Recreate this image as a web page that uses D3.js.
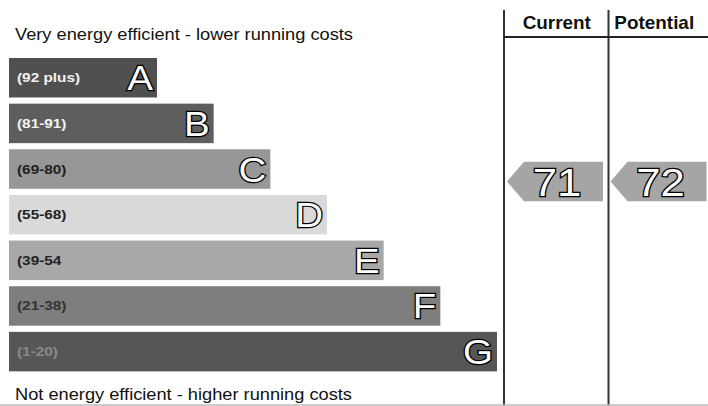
<!DOCTYPE html>
<html>
<head>
<meta charset="utf-8">
<script src="https://cdnjs.cloudflare.com/ajax/libs/d3/7.8.5/d3.min.js"></script>
<style>
  body { margin: 0; background: #fff; }
  text { font-family: "Liberation Sans", Arial, sans-serif; }
</style>
</head>
<body>
<div id="chart"></div>
<script>
var bandLetters = ['A', 'B', 'C', 'D', 'E', 'F', 'G'];
var bandRanges = ['(92 plus)', '(81-91)', '(69-80)', '(55-68)', '(39-54', '(21-38)', '(1-20)'];
var bandColours = ['#505050', '#5e5e5e', '#979797', '#d9d9d9', '#a8a8a8', '#7e7e7e', '#565656'];
var rangeColours = ['#f2f2f2', '#f2f2f2', '#222', '#222', '#222', '#333', '#8a8a8a'];
var ratingNames = ['Current', 'Potential'];
var ratingValues = [71, 72];
var ratingBands = ['C', 'C'];

var W = 708, H = 406;
var svg = d3.select('#chart').append('svg').attr('width', W).attr('height', H);

// row position and bar length by band index
var y = d3.scaleLinear().domain([0, 7]).range([58, 377.5]);
var barRight = d3.scaleLinear().domain([0, 6]).range([157, 497]);
var barH = 39.5;
var col = d3.scaleBand().domain(ratingNames).range([505, 712]);

// the scan is a little wider than it is tall, so text gets stretched sideways
function place(x, y, sx) {
	return 'translate(' + x + ',' + y + ') scale(' + (sx || 1.14) + ',1)';
}

svg.append('text').attr('transform', place(15, 40)).attr('font-size', 16)
	.attr('fill', '#111').text('Very energy efficient - lower running costs');
svg.append('text').attr('transform', place(15, 400)).attr('font-size', 16)
	.attr('fill', '#111').text('Not energy efficient - higher running costs');

var rows = svg.selectAll('g.band').data(bandLetters).enter().append('g').attr('class', 'band');
rows.append('rect')
	.attr('x', 9)
	.attr('y', (d, i) => y(i))
	.attr('width', (d, i) => barRight(i) - 9)
	.attr('height', barH)
	.attr('fill', (d, i) => bandColours[i]);
rows.append('text')
	.attr('transform', (d, i) => place(17, y(i) + barH / 2 + 4.5, 1.2))
	.attr('font-size', 12.8).attr('font-weight', 'bold')
	.attr('fill', (d, i) => rangeColours[i])
	.text((d, i) => bandRanges[i]);
rows.append('text')
	.attr('transform', (d, i) => place(barRight(i) - 4, y(i) + barH / 2 + 12.5, 1.1))
	.attr('text-anchor', 'end')
	.attr('font-size', 35)
	.attr('fill', '#fff').attr('stroke', '#000').attr('stroke-width', 2.5)
	.attr('paint-order', 'stroke')
	.text(d => d);

// frame of the rating columns
svg.append('line').attr('x1', col('Current') - 1).attr('x2', col('Current') - 1)
	.attr('y1', 10).attr('y2', H).attr('stroke', '#333').attr('stroke-width', 2);
svg.append('line').attr('x1', col('Potential')).attr('x2', col('Potential'))
	.attr('y1', 10).attr('y2', H).attr('stroke', '#333').attr('stroke-width', 2);
svg.append('line').attr('x1', col('Current') - 1).attr('x2', W)
	.attr('y1', 37).attr('y2', 37).attr('stroke', '#222').attr('stroke-width', 2);
svg.append('line').attr('x1', 0).attr('x2', W)
	.attr('y1', H - 1).attr('y2', H - 1).attr('stroke', '#bbb').attr('stroke-width', 1.5);

svg.selectAll('text.head').data(ratingNames).enter().append('text')
	.attr('class', 'head')
	.attr('transform', d => place(col(d) + col.bandwidth() / 2 - (d == 'Potential' ? 6 : 0), 29, 1.08))
	.attr('text-anchor', 'middle')
	.attr('font-size', 17.5).attr('font-weight', 'bold').attr('fill', '#111')
	.text(d => d);

var arrows = svg.selectAll('g.rating').data(ratingNames).enter().append('g').attr('class', 'rating');
arrows.append('path')
	.attr('d', (d, i) => {
		var x0 = col(d) + 2, top = y(bandLetters.indexOf(ratingBands[i])) + 12.5;
		var x1 = x0 + 17, x2 = x0 + 96, mid = top + barH / 2;
		var p = d3.path();
		p.moveTo(x0, mid);
		p.lineTo(x1, top);
		p.lineTo(x2, top);
		p.lineTo(x2, top + barH);
		p.lineTo(x1, top + barH);
		p.closePath();
		return p.toString();
	})
	.attr('fill', '#a5a5a5');
arrows.append('text')
	.attr('transform', (d, i) => place(col(d) + 52, y(bandLetters.indexOf(ratingBands[i])) + 12.5 + barH / 2 + 14, 1.12))
	.attr('text-anchor', 'middle')
	.attr('font-size', 39)
	.attr('fill', '#fff').attr('stroke', '#000').attr('stroke-width', 2.5)
	.attr('paint-order', 'stroke')
	.text((d, i) => ratingValues[i]);
</script>
</body>
</html>
